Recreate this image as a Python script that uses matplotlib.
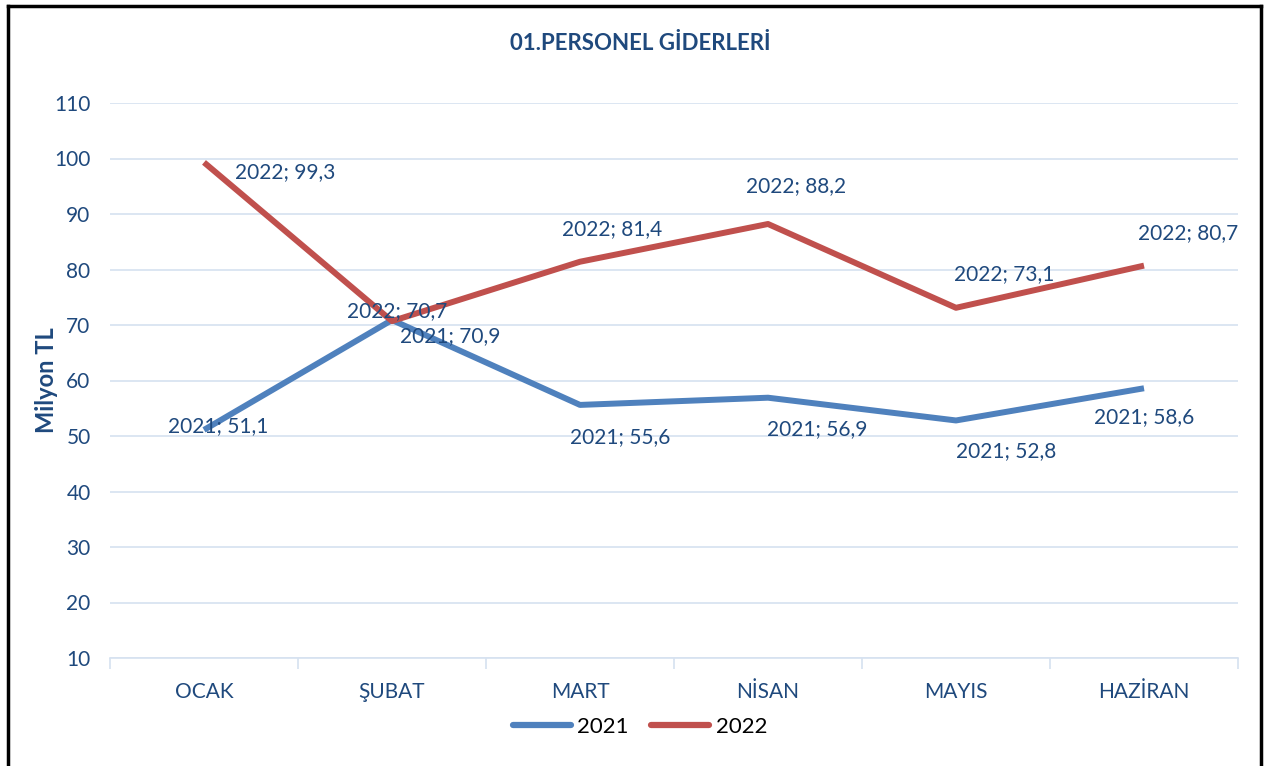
import matplotlib.pyplot as plt
from matplotlib.lines import Line2D

months = ["OCAK", "ŞUBAT", "MART", "NİSAN", "MAYIS", "HAZİRAN"]
vals_2021 = [51.1, 70.9, 55.6, 56.9, 52.8, 58.6]
vals_2022 = [99.3, 70.7, 81.4, 88.2, 73.1, 80.7]

# label offsets in pixels (dx, dy) relative to the point
off_2021 = [(14, 4), (58, -16), (40, -32), (49, -31), (50, -31), (0, -29)]
off_2022 = [(81, -10), (5, 10), (32, 33), (28, 38), (48, 34), (44, 33)]

txt = "#1F497D"
blue = "#4F81BD"
red = "#C0504D"
gridc = "#D6E2F0"

plt.rcParams['font.family'] = ['Lato', 'DejaVu Sans']

fig = plt.figure(figsize=(12.7, 7.66), dpi=100)
ax = fig.add_axes([110/1270, 1-658/766, 1128/1270, 555/766])

x = list(range(len(months)))
ax.plot(x, vals_2021, color=blue, lw=4.3, solid_capstyle='butt', label="2021")
ax.plot(x, vals_2022, color=red, lw=4.3, solid_capstyle='butt', label="2022")

def fmt(v):
    return f"{v:.1f}".replace(".", ",")

for i in x:
    ax.annotate(f"2021; {fmt(vals_2021[i])}", (i, vals_2021[i]), xytext=off_2021[i],
                textcoords='offset pixels', ha='center', va='center', fontsize=15, color=txt)
    ax.annotate(f"2022; {fmt(vals_2022[i])}", (i, vals_2022[i]), xytext=off_2022[i],
                textcoords='offset pixels', ha='center', va='center', fontsize=15, color=txt)

ax.set_xlim(-0.5, 5.5)
ax.set_ylim(10, 110)
ax.set_yticks(range(10, 111, 10))
ax.grid(axis='y', color=gridc, lw=1.2)
ax.set_axisbelow(True)
ax.set_xticks(x)
ax.set_xticklabels(months)
ax.set_xticks([i - 0.5 for i in range(7)], minor=True)
ax.tick_params(axis='x', which='major', length=0, pad=17, labelsize=15, labelcolor=txt)
ax.tick_params(axis='x', which='minor', length=8, color=gridc, width=1.2)
ax.tick_params(axis='y', length=0, pad=14, labelsize=15, labelcolor=txt)
for s in ['top', 'right', 'left']:
    ax.spines[s].set_visible(False)
ax.spines['bottom'].set_color(gridc)
ax.spines['bottom'].set_linewidth(1.2)

ax.set_ylabel("Milyon TL", fontsize=17, fontweight='bold', color=txt, va='center')
ax.yaxis.set_label_coords((47 - 110) / 1128, 0.5)

fig.text(640/1270, 1-44/766, "01.PERSONEL GİDERLERİ", ha='center', va='center',
         fontsize=16, fontweight='bold', color=txt)

handles = [Line2D([0], [0], color=blue, lw=4.5, solid_capstyle='round'),
           Line2D([0], [0], color=red, lw=4.5, solid_capstyle='round')]
fig.legend(handles, ["2021", "2022"], loc='center', bbox_to_anchor=(640/1270, 1-727/766),
           ncol=2, frameon=False, fontsize=16, handlelength=2.6, columnspacing=1.0,
           handletextpad=0.3)

# outer frame
for xs, ys in [([8/1270, 8/1270], [0, 1-6/766]), ([8/1270, 1261/1270], [1-6/766, 1-6/766]),
               ([1261/1270, 1261/1270], [1-6/766, 0])]:
    fig.add_artist(Line2D(xs, ys, color='black', lw=2.5, transform=fig.transFigure))

fig.savefig("out.png", dpi=100)
